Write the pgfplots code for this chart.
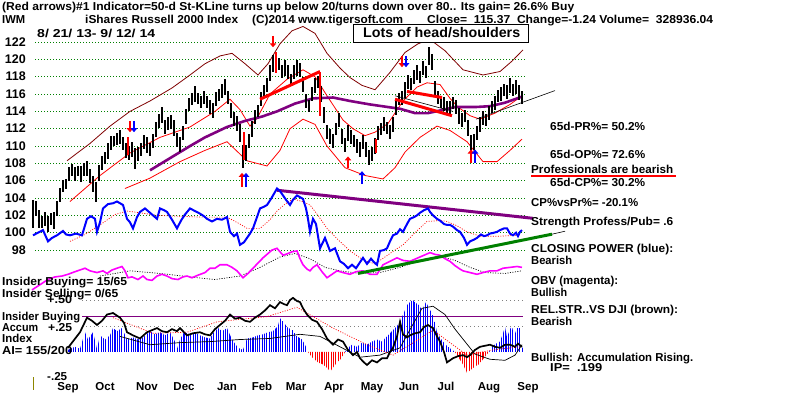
\documentclass[border=0pt]{standalone}
\usepackage{pgfplots}
\pgfplotsset{compat=1.18}
\usepackage{fontspec}
\setmainfont{Liberation Sans}
\usepackage{graphicx}
\usetikzlibrary{patterns.meta,arrows.meta}
\definecolor{brn}{RGB}{128,0,0}
\definecolor{pur}{RGB}{128,0,128}
\definecolor{grn}{RGB}{0,128,0}
\definecolor{mag}{RGB}{255,0,255}
\newcommand\fs{\fontsize{11.5}{12}\selectfont}
\newcommand\TX[4]{\node[anchor=west,inner sep=0pt,text height=8pt,text depth=0pt,font=\bfseries\fs] at (#1pt,{395pt-#2pt}) {\resizebox{#3pt}{\height}{#4}};}
\newcommand\MO[2]{\node[anchor=center,inner sep=0pt,text height=8pt,text depth=0pt,font=\bfseries\fs] at (#1pt,{395pt-387pt}) {#2};}
\tikzset{histb/.style={draw=none,pattern={Lines[angle=90,distance=2.3pt,line width=1.1pt]},pattern color=blue},
         histr/.style={draw=none,pattern={Lines[angle=90,distance=2.3pt,line width=1.1pt]},pattern color=red}}
\begin{document}
\begin{tikzpicture}
\useasboundingbox[fill=white] (0,0) rectangle (800pt,395pt);
% ---------------- price panel ----------------
\begin{axis}[at={(33pt,58.3pt)},anchor=south west,scale only axis,
  width=492pt,height=329.3pt,xmin=33,xmax=525,ymin=88,ymax=126,
  hide axis,clip=false]
\pgfplotsinvokeforeach{98,100,...,122}{
  \addplot[grn,line width=0.9pt,dash pattern=on 1pt off 2pt] coordinates {(35,#1)(525,#1)};
  \node[anchor=east,inner sep=0pt,text height=8pt,text depth=0pt,font=\bfseries\fontsize{12.5}{13}\selectfont] at (axis cs:26,#1) {#1};
}
% brown band
\addplot[brn,line width=0.8pt] coordinates {(67,108.3)(90,110.3)(110,112.3)(130,114)(150,115.2)(172,116.7)(190,118.2)(205,119.5)(220,120.4)(232,120.7)(245,119.5)(258,118.2)(268,119.5)(280,121.8)(292,123.3)(303,123.8)(315,123)(327,120.7)(340,119)(350,117.9)(362,117)(375,116.5)(390,118.5)(405,120.8)(418,121.8)(430,122.3)(445,121)(463,118.8)(483,118.2)(500,118.6)(512,119.8)(523,121.1)};
% red bands
\addplot[red,line width=0.8pt] coordinates {(70,103.6)(100,106.6)(130,109.2)(160,111)(190,112.2)(215,114)(230,115.4)(240,114.2)(250,112.3)(257,113.2)(270,116)(287,117.7)(303,118.8)(315,118)(327,115.8)(343,113)(353,112)(365,111.2)(375,111.6)(388,112.6)(403,115.2)(417,116.8)(427,117.3)(440,117.1)(450,115.5)(458,114.5)(470,113.5)(480,113.1)(495,113.8)(510,114.8)(522,115.8)};
\addplot[red,line width=0.8pt] coordinates {(125,105.1)(150,106.3)(180,108.2)(205,109.5)(227,110.5)(247,108.3)(267,107.7)(280,109.5)(290,112)(303,113.1)(315,112.5)(327,110)(345,107.5)(365,106.6)(383,106.2)(395,107.5)(405,109.3)(420,111)(437,112.3)(450,111.8)(467,110.5)(483,108.2)(497,108.2)(510,109.5)(522,110.8)};
% purple MA
\addplot[pur,line width=2.6pt] coordinates {(150,107.2)(170,108.6)(190,110)(205,111)(227,112.2)(245,112.9)(262,113.4)(277,114)(295,114.9)(313,115.5)(333,115.6)(350,115.2)(370,114.8)(400,114.3)(415,113.8)(428,113.8)(440,114.1)(455,114.5)(475,114.5)(490,114.6)(505,115)(522,115.7)};
% price bars
\addplot[draw=none,mark=none,error bars/.cd,y dir=both,y explicit,error mark=none,
  error bar style={draw=black,line width=1.1pt}] table[x=x,y=m,y error=h] {
x m h
33 102.2 1.6
36 102.8 0.9
39 101.6 1.0
42 101.2 0.7
45 101.6 0.8
48 101.0 0.9
51 101.6 0.7
54 101.4 1.0
57 102.8 0.9
60 104.4 0.8
63 105.4 0.7
66 105.6 0.6
69 106.8 0.8
72 107.2 0.7
75 106.8 0.8
78 107.1 0.6
81 106.8 0.9
84 107.3 0.7
87 107.4 0.9
90 106.5 0.8
93 105.6 0.9
96 104.7 1.2
99 106.9 0.9
102 108.0 0.8
105 108.6 0.7
108 109.4 0.9
111 110.4 0.8
114 110.6 0.6
117 110.8 0.7
120 111.0 0.8
123 110.3 0.7
126 109.5 0.9
129 109.2 0.8
132 109.6 0.9
135 108.6 1.2
138 109.1 0.8
141 109.6 0.7
144 110.5 0.8
147 110.1 0.9
150 109.6 0.7
153 110.6 0.8
156 111.9 0.9
159 112.9 0.8
162 113.6 0.9
165 112.2 0.8
168 112.6 0.7
171 112.8 0.8
174 112.1 0.9
177 110.7 0.8
180 110.2 0.9
183 111.5 0.8
186 113.4 0.9
189 114.8 0.8
192 115.4 0.7
195 116.0 0.9
198 115.5 0.6
201 115.1 0.7
204 115.6 0.8
207 115.1 0.7
210 114.5 0.8
213 114.1 0.9
216 115.4 0.8
219 115.9 0.7
222 116.4 0.8
225 116.8 0.9
228 115.6 0.8
231 114.1 0.9
234 113.1 0.8
237 112.6 0.9
240 111.5 1.0
243 108.8 1.3
246 109.2 0.9
249 110.6 0.8
252 112.0 0.9
255 113.4 0.8
258 114.0 0.7
261 115.4 0.8
264 116.4 0.7
267 117.0 0.8
270 118.4 0.9
273 119.5 1.0
276 119.8 0.8
279 119.5 0.7
282 118.6 0.8
285 119.0 0.9
288 118.5 0.8
291 117.6 0.7
294 118.5 0.8
297 119.0 0.9
300 118.8 0.8
303 117.1 0.9
306 115.2 0.8
309 114.6 0.7
312 116.0 0.8
315 117.0 0.9
318 117.4 0.7
321 116.0 0.9
324 113.6 0.9
327 111.6 0.8
330 111.1 0.9
333 110.6 0.8
336 112.0 0.7
339 113.0 0.8
342 111.1 0.9
345 110.1 0.8
348 111.5 0.9
351 111.0 0.8
354 110.6 0.7
357 110.0 0.8
360 109.6 0.9
363 110.5 0.8
366 109.6 0.9
369 108.7 0.9
372 109.1 0.8
375 110.0 0.9
378 111.5 0.8
381 112.0 0.7
384 112.5 0.8
387 112.1 0.7
390 111.6 0.8
393 112.5 0.9
396 114.4 0.8
399 115.4 0.7
402 115.5 0.8
405 116.5 0.9
408 117.4 0.8
411 117.2 0.7
414 118.0 0.8
417 118.5 0.9
420 118.0 0.7
423 119.0 0.8
426 118.5 0.7
429 120.4 1.0
432 119.7 0.9
435 116.6 0.9
438 115.6 0.8
441 115.1 0.7
444 114.9 0.8
447 114.5 0.7
450 114.4 0.8
453 115.0 0.7
456 114.5 0.8
459 113.5 0.9
462 113.0 0.8
465 113.5 0.7
468 112.1 0.9
471 110.0 1.3
474 110.5 0.9
477 111.5 0.8
480 112.5 0.9
483 113.2 0.8
486 113.0 0.7
489 113.8 0.8
492 114.5 0.7
495 115.0 0.8
498 115.8 0.7
501 116.0 0.8
504 116.5 0.7
507 116.2 0.8
510 117.0 0.9
513 116.5 0.7
516 116.8 0.8
519 116.2 0.9
522 115.6 0.8
};
% red signal bars
\addplot[draw=none,mark=none,error bars/.cd,y dir=both,y explicit,error mark=none,
  error bar style={draw=red,line width=1.1pt}] table[x=x,y=m,y error=h] {
x m h
128 110.0 1.0
244 110.0 1.6
276 119.6 1.2
320 116.0 2.5
376 110.0 0.8
};
% trend lines
\addplot[red,line width=3pt] coordinates {(260,115.4)(320,118.6)};
\addplot[red,line width=3pt] coordinates {(407,116.3)(442,115.6)};
\addplot[red,line width=3pt] coordinates {(395,115.4)(452,113.5)};
\addplot[black,line width=0.6pt] coordinates {(395,115.8)(453,114.0)};
\addplot[black,line width=0.6pt] coordinates {(476,113.1)(555,116.4)};
% arrows
\addplot[red,line width=2pt,-{Triangle[length=4pt,width=6.5pt]},quiver={u=0,v=\thisrow{v}}] table {
x y v
130 112.9 -1.3
273 122.7 -1.3
402 120.4 -1.3
242 105.3 1.6
348 107.5 1.3
471 108.1 1.5
};
\addplot[blue,line width=2pt,-{Triangle[length=4pt,width=6.5pt]},quiver={u=0,v=\thisrow{v}}] table {
x y v
134 112.9 -1.3
406 120.4 -1.3
246 105.3 1.6
362 105.6 1.5
475 108.1 1.5
};
% closing power MA (red dotted)
\addplot[red,line width=0.7pt,dash pattern=on 1pt off 1.5pt] coordinates {(70,99)(85,99.8)(100,100.9)(115,102.1)(127,102.5)(140,102.3)(157,102)(180,101.9)(200,101.8)(227,101.8)(240,101.0)(247,100.5)(260,100.5)(270,101.5)(277,102.5)(285,103.3)(293,103.9)(302,103.6)(310,103.2)(318,102)(327,100.5)(338,99.2)(350,97.9)(360,97.1)(367,96.7)(375,96.4)(385,97.2)(395,98.0)(403,98.6)(415,100)(427,101.3)(440,101.4)(447,101.3)(457,100.8)(467,100.1)(480,99.6)(500,99.6)(517,99.7)};
% OBV MA (black dotted)
\addplot[black,line width=0.7pt,dash pattern=on 1pt off 1.5pt] coordinates {(100,95.0)(130,95.6)(160,95.3)(190,94.9)(215,94.6)(240,95.0)(260,96.0)(280,97.2)(295,97.6)(310,97.0)(325,96.0)(340,95.6)(360,95.3)(380,95.4)(400,96.0)(420,96.8)(440,97.3)(455,96.8)(470,96.0)(485,95.4)(505,95.3)(522,95.6)};
% OBV magenta
\addplot[mag,line width=1.6pt] coordinates {(32,93.4)(40,94.0)(48,94.6)(55,94.9)(62,95.0)(68,95.2)(75,95.5)(80,95.7)(85,95.9)(90,95.6)(97,95.4)(103,95.6)(107,95.3)(112,95.7)(117,95.9)(122,96.1)(125,95.6)(128,94.8)(132,94.9)(138,94.6)(143,95.0)(147,94.6)(152,94.5)(157,95.0)(162,95.2)(167,95.0)(172,94.7)(178,94.6)(183,94.9)(187,95.0)(192,94.8)(198,95.1)(205,95.4)(210,95.9)(215,95.9)(220,96.3)(227,96.3)(232,96.0)(237,95.6)(243,94.8)(248,95.3)(253,95.9)(258,96.5)(263,97.1)(268,97.6)(272,98.0)(277,98.2)(280,97.8)(283,97.4)(288,97.6)(292,97.8)(297,97.9)(300,97.0)(303,96.3)(307,95.8)(310,95.6)(313,96.0)(317,96.3)(322,95.5)(327,94.8)(332,95.2)(337,95.6)(343,95.4)(350,95.2)(356,95.5)(363,95.6)(370,95.2)(377,95.2)(383,96.3)(390,96.7)(397,97.1)(403,96.8)(410,96.7)(416,97.0)(422,97.3)(430,97.7)(435,97.5)(440,97.4)(445,97.0)(450,96.7)(455,96.2)(460,95.8)(463,95.6)(470,95.4)(477,95.2)(483,95.4)(490,95.6)(497,95.6)(503,95.9)(510,96.0)(517,96.1)(522,96.0)};
% resistance / support lines
\addplot[pur,line width=3pt] coordinates {(277,104.9)(533,101.66)};
\addplot[grn,line width=3pt] coordinates {(358,95.3)(552,99.83)};
\addplot[black,line width=0.6pt] coordinates {(552,99.83)(565,100.17)};
% closing power blue
\addplot[blue,line width=2pt] coordinates {(33,99.7)(38,100.0)(43,100.3)(48,99.0)(52,99.4)(57,99.7)(63,100.2)(66,99.8)(70,99.7)(76,99.9)(82,99.7)(87,101.6)(91,101.9)(95,101.6)(97,100.1)(100,101.2)(103,102.8)(108,103.3)(113,103.4)(117,103.6)(120,103.4)(123,103.2)(127,101.6)(130,101.2)(133,100.5)(137,101.8)(140,102.4)(145,102.8)(150,102.3)(154,101.9)(157,101.6)(160,102.8)(164,102.6)(167,102.4)(172,101.5)(177,100.5)(181,101.4)(185,102.1)(190,102.8)(195,102.5)(200,102.2)(204,101.9)(207,101.6)(212,101.3)(217,101.6)(222,101.5)(227,101.8)(230,100.1)(234,99.6)(237,99.9)(240,98.6)(244,98.9)(247,99.4)(250,99.9)(253,100.5)(257,101.8)(260,102.8)(264,103.0)(267,103.2)(271,103.9)(274,104.5)(277,105.1)(280,104.8)(283,104.3)(286,103.8)(290,103.2)(293,103.8)(297,104.3)(300,104.1)(303,103.9)(306,102.8)(308,101.6)(310,100.1)(313,101.6)(316,101.0)(320,98.2)(325,99.4)(330,97.9)(335,98.2)(340,96.7)(344,96.4)(348,95.9)(352,96.3)(356,95.9)(360,96.6)(363,97.1)(367,96.4)(371,97.0)(374,96.6)(377,96.3)(380,97.9)(384,98.0)(387,98.2)(390,99.0)(393,99.7)(397,99.9)(400,100.4)(403,100.1)(407,101.0)(410,101.6)(414,101.8)(417,102.0)(420,102.3)(424,102.6)(428,102.8)(430,102.4)(433,102.0)(437,101.6)(440,101.4)(444,101.0)(447,100.9)(450,100.9)(453,100.7)(457,100.3)(460,100.1)(464,99.4)(467,98.6)(470,99.0)(474,99.2)(477,99.4)(481,99.8)(484,99.6)(487,99.7)(490,99.9)(494,100.0)(497,100.1)(500,100.3)(504,100.5)(507,100.5)(510,99.9)(513,99.7)(516,100.0)(518,99.6)(520,100.1)(522,100.3)};
\end{axis}
% ---------------- accumulation panel ----------------
\begin{axis}[at={(33pt,1.4pt)},anchor=south west,scale only axis,
  width=492pt,height=104pt,xmin=33,xmax=525,ymin=-0.4,ymax=0.6,
  hide axis,clip=false]
\addplot[gray,line width=0.8pt,dash pattern=on 1pt off 3pt] coordinates {(82,0.5)(523,0.5)};
\addplot[gray,line width=0.8pt,dash pattern=on 1pt off 3pt] coordinates {(82,0.25)(523,0.25)};
\addplot[pur,line width=0.8pt] coordinates {(82,0.34)(523,0.34)};
\addplot[histb] coordinates {(68,0)(68,0.02)(75,0.05)(80,0.03)(85,0.19)(88,0.12)(93,0.19)(97,0.03)(100,0.16)(105,0.12)(110,0.16)(113,0.23)(117,0.2)(122,0.23)(127,0.12)(133,0.14)(138,0.12)(143,0.14)(150,0.2)(155,0.17)(160,0.19)(165,0.16)(170,0.19)(175,0.1)(177,0.03)(180,0.12)(184,0.19)(190,0.17)(195,0.19)(200,0.16)(205,0.14)(210,0.13)(213,0.18)(218,0.23)(222,0.2)(227,0.23)(232,0.12)(238,0.04)(243,0.02)(247,0.13)(253,0.14)(258,0.16)(263,0.17)(268,0.19)(273,0.2)(278,0.25)(280,0.33)(284,0.28)(288,0.23)(292,0.22)(297,0.15)(302,0.12)(306,0.05)(308,0)} \closedcycle;
\addplot[histr] coordinates {(308,0)(312,-0.05)(318,-0.1)(323,-0.12)(328,-0.16)(330,-0.19)(333,-0.15)(337,-0.1)(341,-0.07)(345,0)} \closedcycle;
\addplot[histb] coordinates {(345,0)(348,0.04)(352,0.07)(357,0.05)(362,0.09)(367,0.07)(372,0.1)(377,0.12)(382,0.1)(387,0.15)(392,0.2)(397,0.25)(400,0.29)(404,0.38)(407,0.45)(410,0.48)(413,0.5)(416,0.47)(419,0.45)(422,0.4)(426,0.48)(429,0.42)(432,0.38)(435,0.28)(437,0.19)(440,0.14)(443,0.1)(447,0.06)(451,0.03)(455,0)} \closedcycle;
\addplot[histr] coordinates {(455,0)(459,-0.06)(463,-0.12)(467,-0.2)(471,-0.17)(475,-0.14)(479,-0.12)(483,-0.07)(487,-0.02)(489,0)} \closedcycle;
\addplot[histb] coordinates {(489,0)(492,0.05)(496,0.08)(500,0.1)(503,0.18)(505,0.24)(507,0.14)(510,0.22)(512,0.25)(514,0.15)(517,0.23)(520,0.23)(522,0.16)(523,0)} \closedcycle;
% thin black
\addplot[black,line width=0.7pt] coordinates {(120,0.15)(150,0.07)(180,0.09)(210,0.1)(240,0.12)(270,0.13)(300,0.17)(320,0.15)(340,0.05)(360,-0.05)(380,-0.03)(400,0.04)(412,0.25)(422,0.42)(433,0.44)(445,0.36)(455,0.22)(465,0.1)(475,-0.02)(490,-0.07)(505,-0.08)(515,-0.03)(522,0.07)};
% red dotted
\addplot[red,line width=0.7pt,dash pattern=on 1pt off 1.5pt] coordinates {(113,0.33)(153,0.18)(187,0.19)(217,0.29)(267,0.34)(297,0.43)(333,0.23)(367,0.07)(393,-0.03)(415,0.1)(433,0.21)(467,-0.03)(493,0.02)(520,0.05)};
% thick black RS
\addplot[black,line width=1.7pt] coordinates {(68,0.04)(80,0.19)(87,0.33)(92,0.3)(97,0.26)(102,0.3)(107,0.36)(113,0.375)(120,0.33)(124,0.28)(127,0.19)(133,0.16)(140,0.13)(147,0.19)(152,0.21)(157,0.23)(162,0.2)(167,0.19)(172,0.22)(177,0.2)(180,0.23)(187,0.16)(193,0.18)(200,0.19)(205,0.17)(210,0.16)(215,0.22)(220,0.26)(225,0.3)(230,0.36)(235,0.32)(240,0.33)(245,0.3)(250,0.29)(255,0.33)(260,0.36)(265,0.4)(270,0.45)(275,0.42)(280,0.48)(284,0.46)(287,0.45)(290,0.5)(293,0.52)(297,0.49)(300,0.48)(303,0.42)(307,0.36)(312,0.31)(317,0.29)(322,0.22)(327,0.13)(333,0.07)(338,0.12)(343,0.1)(348,0.02)(353,-0.03)(357,0.0)(360,-0.06)(364,-0.1)(367,-0.125)(372,-0.08)(377,-0.1)(382,-0.06)(387,-0.06)(390,0.0)(393,0.04)(397,0.15)(400,0.29)(403,0.17)(407,0.14)(410,0.16)(415,0.18)(420,0.19)(424,0.24)(428,0.26)(431,0.24)(433,0.23)(437,0.15)(440,0.1)(444,0.0)(447,-0.1)(450,-0.08)(453,-0.06)(458,-0.04)(463,-0.03)(467,-0.05)(470,-0.03)(475,0.02)(480,0.05)(485,0.06)(490,0.07)(495,0.05)(500,0.04)(505,0.07)(510,0.07)(515,0.05)(518,0.08)(522,0.05)};
\end{axis}
% ---------------- texts ----------------
\TX{2}{7}{572}{(Red arrows)\#1 Indicator=50-d St-KLine turns up below 20/turns down over 80.. Its gain= 26.6\% Buy}
\TX{2}{20}{23}{IWM}
\TX{85}{20}{153}{iShares Russell 2000 Index}
\TX{252}{20}{151}{(C)2014 www.tigersoft.com}
\TX{427}{20}{286}{Close=\ \ 115.37\ \ Change=-1.24 Volume=\ \ 328936.04}
\TX{37}{34}{118}{8/ 21/ 13- 9/ 12/ 14}
\node[draw=black,fill=white,line width=0.9pt,anchor=north west,minimum width=175pt,minimum height=18pt,inner sep=0pt] at (353pt,{395pt-24pt}) {};
\node[anchor=west,inner sep=0pt,text height=10pt,text depth=0pt,font=\bfseries\fontsize{14}{15}\selectfont] at (363pt,{395pt-32.5pt}) {\resizebox{157pt}{\height}{Lots of head/shoulders}};
\TX{550}{127}{95}{65d-PR\%= 50.2\%}
\TX{550}{155}{95}{65d-OP\%= 72.6\%}
\TX{531}{170}{142}{Professionals are bearish}
\draw[red,line width=2pt] (531pt,{395pt-176pt}) -- (676pt,{395pt-176pt});
\TX{550}{183}{95}{65d-CP\%= 30.2\%}
\TX{531}{203}{107}{CP\%vsPr\%= -20.1\%}
\TX{531}{222}{142}{Strength Profess/Pub= .6}
\TX{531}{249}{142}{CLOSING POWER (blue):}
\TX{531}{261}{41}{Bearish}
\TX{531}{281}{87}{OBV (magenta):}
\TX{531}{293}{36}{Bullish}
\TX{531}{310}{147}{REL.STR..VS DJI (brown):}
\TX{531}{322}{41}{Bearish}
\TX{531}{358}{162}{Bullish: Accumulation Rising.}
\TX{550}{368}{52}{IP=\ \ .199}
\TX{2}{282}{125}{Insider Buying= 15/65}
\TX{2}{294}{116}{Insider Selling= 0/65}
\TX{47}{300}{25}{+.50}
\TX{2}{317}{78}{Insider Buying}
\TX{2}{328}{36}{Accum}
\TX{48}{328}{24}{+.25}
\TX{2}{339}{30}{Index}
\TX{2}{351}{70}{AI= 155/200}
\TX{47}{377}{20}{-.25}
\draw[olive,line width=0.8pt] (33pt,{395pt-390pt}) -- (33pt,{395pt-377pt});
\MO{68}{Sep}\MO{105}{Oct}\MO{147}{Nov}\MO{184}{Dec}\MO{227}{Jan}\MO{262}{Feb}
\MO{296}{Mar}\MO{334}{Apr}\MO{372}{May}\MO{409}{Jun}\MO{446}{Jul}\MO{489}{Aug}\MO{528}{Sep}
\end{tikzpicture}
\end{document}
